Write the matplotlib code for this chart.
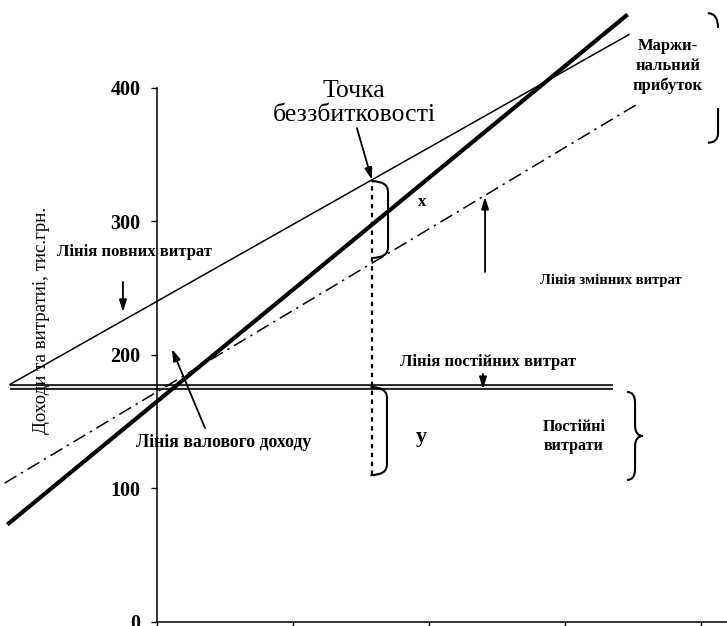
import numpy as np
import matplotlib
matplotlib.use("Agg")
import matplotlib.pyplot as plt
from matplotlib.path import Path
from matplotlib.patches import PathPatch

plt.rcParams['font.family'] = ['Liberation Serif', 'DejaVu Serif']

# line endpoints (x in output units, y in тис.грн.)
revenue_x = [-110, 346]
revenue_y = [73, 455]
total_x = [-108, 347]
total_y = [178, 440]
variable_x = [-112, 355]
variable_y = [104, 389]
fixed_x = [-108, 335]
fixed_y = [176, 176]

breakeven_x = 158
breakeven_low = 110

y_ticks = [0, 100, 200, 300, 400]
x_ticks = [0, 100, 200, 300, 400]

fig = plt.figure(figsize=(7.27, 6.26), dpi=100)
ax = fig.add_axes([0, 0, 1, 1])
ax.set_xlim(-115.4, 419.1)
ax.set_ylim(-3.0, 465.9)

# lines
ax.plot(fixed_x, fixed_y, color='#222222', lw=4.2, solid_capstyle='butt', zorder=2)
ax.plot(fixed_x, fixed_y, color='white', lw=1.3, solid_capstyle='butt', zorder=2)
ax.plot(total_x, total_y, color='black', lw=1.1, zorder=3)
ax.plot(variable_x, variable_y, color='black', lw=1.1,
        linestyle=(0, (9, 3.5, 1.5, 3.5)), zorder=3)
ax.plot(revenue_x, revenue_y, color='black', lw=3.0, solid_capstyle='butt', zorder=4)

# dotted break-even line
be_top = np.interp(breakeven_x, total_x, total_y)
ax.plot([breakeven_x, breakeven_x], [breakeven_low, be_top], color='black',
        lw=1.6, linestyle=(0, (2, 2)), zorder=3)


def bracket(x0, x1, y0, y1, r):
    # ")" shaped bracket with rounded corners
    verts = [(x0, y1), (x1, y1), (x1, y1 - r), (x1, y0 + r), (x1, y0), (x0, y0)]
    codes = [Path.MOVETO, Path.CURVE3, Path.CURVE3, Path.LINETO, Path.CURVE3, Path.CURVE3]
    ax.add_patch(PathPatch(Path(verts, codes), fill=False, lw=1.5, zorder=5))


def curly(x0, x1, y0, y1, r):
    # "}" shaped brace
    xm = (x0 + x1) / 2
    ym = (y0 + y1) / 2
    verts = [(x0, y1), (xm, y1), (xm, y1 - r), (xm, ym + r), (xm, ym), (x1, ym),
             (xm, ym), (xm, ym - r), (xm, y0 + r), (xm, y0), (x0, y0)]
    codes = [Path.MOVETO, Path.CURVE3, Path.CURVE3, Path.LINETO, Path.CURVE3, Path.CURVE3,
             Path.CURVE3, Path.CURVE3, Path.LINETO, Path.CURVE3, Path.CURVE3]
    ax.add_patch(PathPatch(Path(verts, codes), fill=False, lw=1.5, zorder=5))


bracket(breakeven_x, 169.9, 272.7, be_top - 1, 8)
bracket(breakeven_x - 1, 169.1, breakeven_low, 176, 8)
curly(345.6, 357.4, 106.4, 172.3, 8)

# marginal profit brace (only its ends are visible)
top = Path([(405, 456), (412.5, 456), (412.5, 445)], [Path.MOVETO, Path.CURVE3, Path.CURVE3])
bot = Path([(412.5, 385), (412.5, 366), (412.5, 359), (405, 359)],
           [Path.MOVETO, Path.LINETO, Path.CURVE3, Path.CURVE3])
ax.add_patch(PathPatch(top, fill=False, lw=1.5))
ax.add_patch(PathPatch(bot, fill=False, lw=1.5))

# texts
bold = dict(fontweight='bold', ha='center', va='center')
ax.text(144.9, 388.5, 'Точка\nбеззбитковості', fontsize=18.5, ha='center', va='center',
        linespacing=1.12)
ax.text(375.7, 416.5, 'Маржи-\nнальний\nприбуток', fontsize=12, linespacing=1.3, **bold)
ax.text(194.9, 314.6, 'x', fontsize=12, **bold)
ax.text(194.1, 138.6, 'y', fontsize=16, **bold)
ax.text(333.8, 256.2, 'Лінія змінних витрат', fontsize=10.5, **bold)
ax.text(-16.9, 277.2, 'Лінія повних витрат', fontsize=12, **bold)
ax.text(243.4, 194.8, 'Лінія постійних витрат', fontsize=12, **bold)
ax.text(49.3, 134.1, 'Лінія валового доходу', fontsize=12.8, **bold)
ax.text(306.6, 138.6, 'Постійні\nвитрати', fontsize=11.5, linespacing=1.25, **bold)
ax.text(-84.6, 226.2, 'Доходи та витратиі, тис.грн.', fontsize=13.6, rotation=90,
        ha='center', va='center')

arrow = dict(arrowstyle='-|>,head_length=0.7,head_width=0.22', color='black', lw=1.3,
             shrinkA=0, shrinkB=0)
ax.annotate('', xy=(breakeven_x, be_top), xytext=(147, 370), arrowprops=arrow, zorder=6)
ax.annotate('', xy=(241.2, 318.4), xytext=(241.2, 262.2), arrowprops=arrow)
ax.annotate('', xy=(-25, 232.2), xytext=(-25, 254.7), arrowprops=arrow)
ax.annotate('', xy=(239.7, 174.5), xytext=(239.7, 185.8), arrowprops=arrow)
ax.annotate('', xy=(11, 204.5), xytext=(35.3, 145.3), arrowprops=arrow)

# axes
for s in ['top', 'right']:
    ax.spines[s].set_visible(False)
ax.spines['left'].set_position(('data', 0))
ax.spines['bottom'].set_position(('data', 0))
ax.spines['left'].set_bounds(0, 400)
ax.spines['bottom'].set_bounds(0, 419.1)
ax.spines['left'].set_linewidth(1.1)
ax.spines['bottom'].set_linewidth(1.1)
ax.set_yticks(y_ticks)
ax.set_yticklabels([str(v) for v in y_ticks], fontweight='bold', fontsize=14.5)
ax.set_xticks(x_ticks)
ax.set_xticklabels([])
ax.tick_params(axis='y', direction='out', length=4, width=1, pad=8)
ax.tick_params(axis='x', direction='out', length=6, width=1)
ax.patch.set_visible(False)

fig.savefig('out.png', dpi=100)
